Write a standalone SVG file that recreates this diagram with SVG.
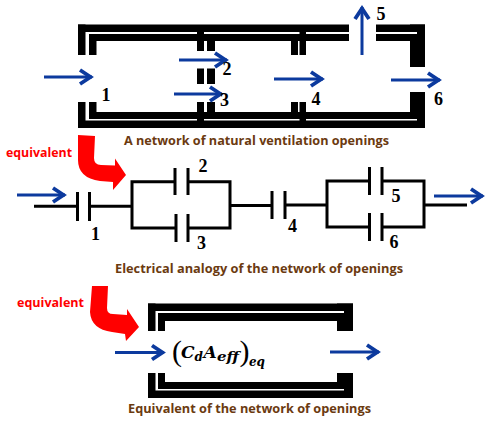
<svg xmlns="http://www.w3.org/2000/svg" width="487" height="424" viewBox="0 0 487 424">
<style>
.k{fill:#000}
.w{fill:#fff}
.blue{fill:none;stroke:#0c3a9e;stroke-width:3;marker-end:url(#head)}
.red{fill:#f00}
.wire{fill:none;stroke:#000;stroke-width:3;stroke-linejoin:miter}
.num{font-family:"Liberation Serif",serif;font-weight:bold;font-size:18px;fill:#000}
.cap{font-family:"Open Sans","DejaVu Sans",sans-serif;font-weight:bold;font-size:12px;fill:#6b3a10}
.eqv{font-family:"Open Sans","DejaVu Sans",sans-serif;font-weight:bold;font-size:12px;fill:#f00}
.m{font-family:"DejaVu Serif","Liberation Serif",serif;font-weight:bold;font-style:italic;fill:#000}
</style>
<defs>
<marker id="head" markerUnits="userSpaceOnUse" markerWidth="18" markerHeight="20" refX="15" refY="10" orient="auto">
<path d="M3,3 L13.5,10 L3,17" fill="none" stroke="#0c3a9e" stroke-width="3.8"/>
</marker>
</defs>

<g id="network-walls">
<rect class="k" x="78" y="24.5" width="271" height="16.5"/>
<rect class="k" x="376" y="24.5" width="49" height="16.5"/>
<rect class="k" x="410" y="24.5" width="15" height="42.5"/>
<rect class="k" x="78" y="24.5" width="7.5" height="30.5"/>
<rect class="k" x="89" y="34" width="7.5" height="21"/>
<rect class="k" x="78" y="112" width="347" height="16"/>
<rect class="k" x="78" y="102" width="7.5" height="26"/>
<rect class="k" x="89" y="102" width="7.5" height="17"/>
<rect class="k" x="410" y="92" width="15" height="36"/>
<rect class="w" x="85.5" y="32" width="263.5" height="2"/>
<rect class="w" x="85.5" y="34" width="3.5" height="7"/>
<rect class="w" x="376" y="32" width="41" height="2"/>
<rect class="w" x="85.5" y="112" width="3.5" height="7"/>
<rect class="w" x="85.5" y="119" width="331.5" height="1.5"/>
<rect class="k" x="197" y="30" width="7" height="21"/>
<rect class="k" x="207" y="40" width="8" height="11"/>
<rect class="k" x="197" y="68.5" width="7" height="15.5"/>
<rect class="k" x="207" y="68.5" width="8" height="15.5"/>
<rect class="k" x="197" y="102" width="7" height="20"/>
<rect class="k" x="207" y="102" width="8" height="11"/>
<rect class="k" x="291" y="40" width="7" height="15"/>
<rect class="k" x="299.5" y="30" width="6.5" height="25"/>
<rect class="k" x="291" y="102" width="7" height="11"/>
<rect class="k" x="299.5" y="102" width="6.5" height="20"/>
</g>

<g id="equivalent-walls">
<rect class="k" x="148" y="303.5" width="205" height="17.5"/>
<rect class="k" x="148" y="303.5" width="7.5" height="27.5"/>
<rect class="k" x="158" y="313" width="7" height="18"/>
<rect class="k" x="337" y="303.5" width="16" height="27.5"/>
<rect class="w" x="155.5" y="311" width="188.5" height="2"/>
<rect class="w" x="155.5" y="313" width="2.5" height="8"/>
<rect class="k" x="148" y="382" width="205" height="16"/>
<rect class="k" x="148" y="373" width="7.5" height="25"/>
<rect class="k" x="158" y="373" width="7" height="16"/>
<rect class="k" x="337" y="373" width="16" height="25"/>
<rect class="w" x="155.5" y="382" width="2.5" height="7"/>
<rect class="w" x="155.5" y="389" width="188.5" height="1.5"/>
</g>

<g id="connectors">
<path class="blue" d="M44,77 H92"/>
<path class="blue" d="M179,60 H227"/>
<path class="blue" d="M174,94 H222"/>
<path class="blue" d="M274,79 H323"/>
<path class="blue" d="M362,55 V7"/>
<path class="blue" d="M391,80 H440"/>
<path class="blue" d="M17,195 H65"/>
<path class="blue" d="M434,196 H483"/>
<path class="blue" d="M115,352.5 H164"/>
<path class="blue" d="M330,352 H379"/>
</g>

<g id="circuit">
<path class="wire" d="M34,206.3 H77.5 M77.5,192 V221 M89.5,192 V221 M89.5,206.3 H132"/>
<path class="wire" d="M175,181.7 H132 V228 H176 M175,168 V195 M188,168 V195 M188,181.7 H230 V228 H188 M176,214 V242 M188,214 V242 M230,205.5 H272"/>
<path class="wire" d="M272,191 V219 M285,191 V219 M285,205 H327"/>
<path class="wire" d="M369.5,181 H327 V227 H369.5 M369.5,167 V195 M382,167 V195 M382,181 H424 V227 H382 M369.5,213 V241 M382,213 V241 M424,205 H467"/>
</g>

<g id="red-arrows">
<path class="red" d="M78,135 L95,136 L94,158 Q94,165 101,165 L115,165.5 L115,158.5 L126,175 L113,190 L113,182 L100,181 Q78,178 78,160 Z"/>
<path class="red" d="M92,286 L108,286 L107,308 Q107,314 113,314 L127,315 L127,309 L139,327 L126,341 L125,334 L112,332 Q91,329 90,312 Z"/>
</g>

<g id="labels-network">
<text class="num" x="101.5" y="100.5">1</text>
<text class="num" x="222.5" y="75">2</text>
<text class="num" x="220" y="106">3</text>
<text class="num" x="311.5" y="105">4</text>
<text class="num" x="376.5" y="20">5</text>
<text class="num" x="434" y="105">6</text>
<text class="cap" x="124" y="144.5" textLength="265" lengthAdjust="spacingAndGlyphs">A network of natural ventilation openings</text>
</g>

<g id="labels-circuit">
<text class="num" x="91" y="240">1</text>
<text class="num" x="198.5" y="172">2</text>
<text class="num" x="197" y="249">3</text>
<text class="num" x="288" y="232">4</text>
<text class="num" x="391.5" y="202">5</text>
<text class="num" x="389.5" y="248">6</text>
<text class="eqv" x="6" y="157" textLength="66" lengthAdjust="spacingAndGlyphs">equivalent</text>
<text class="cap" x="115" y="272.5" textLength="288" lengthAdjust="spacingAndGlyphs">Electrical analogy of the network of openings</text>
</g>

<g id="labels-equivalent">
<text class="eqv" x="17" y="307" textLength="67" lengthAdjust="spacingAndGlyphs">equivalent</text>
<text class="cap" x="128" y="412.5" textLength="243" lengthAdjust="spacingAndGlyphs">Equivalent of the network of openings</text>
<text font-family="'Liberation Serif',serif" font-size="30" x="172" y="361">(</text>
<text class="m" font-size="17" x="181" y="358">C</text>
<text class="m" font-size="12" x="194.5" y="361">d</text>
<text class="m" font-size="17" x="203.5" y="358">A</text>
<text class="m" font-size="12.5" x="217" y="361" textLength="22" lengthAdjust="spacingAndGlyphs">eff</text>
<text font-family="'Liberation Serif',serif" font-size="30" x="239.5" y="361">)</text>
<text class="m" font-size="12.5" x="249" y="366" textLength="16" lengthAdjust="spacingAndGlyphs">eq</text>
</g>
</svg>
